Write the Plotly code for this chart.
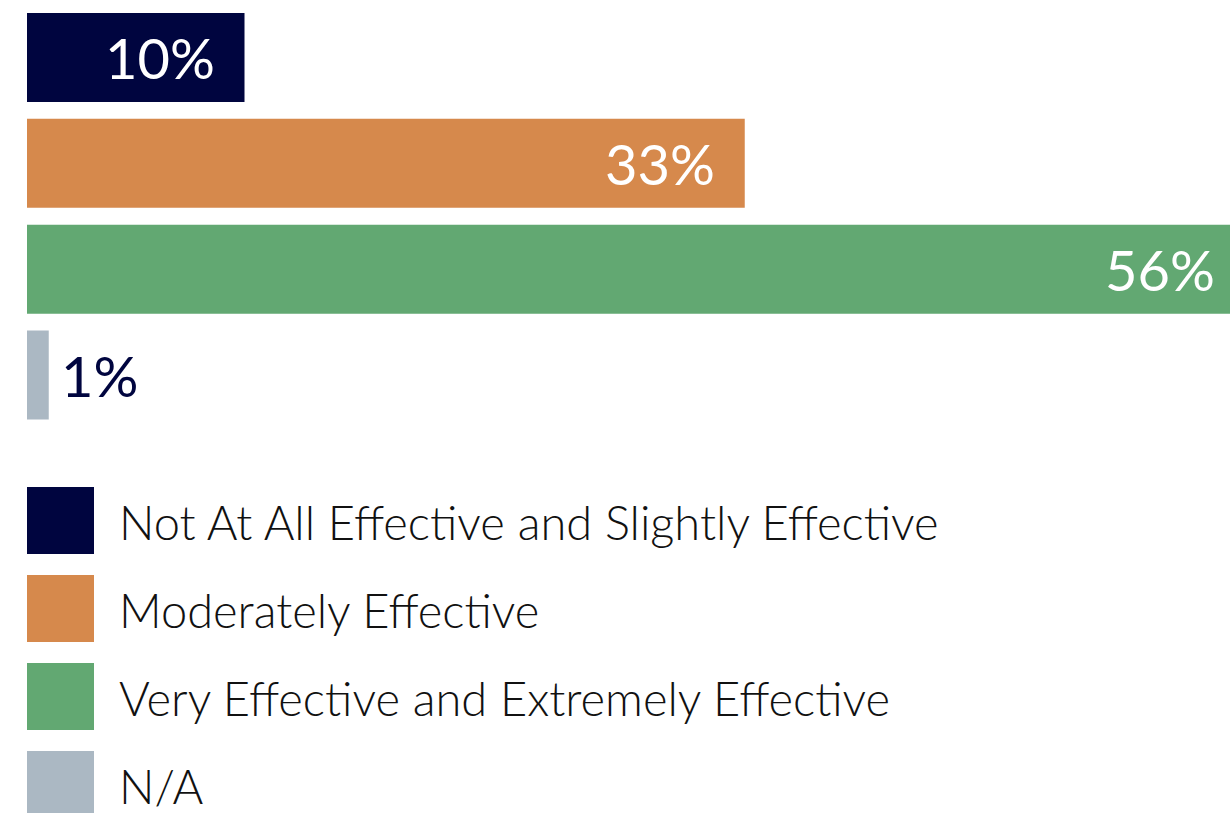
import plotly.graph_objects as go

# Survey response shares (percent)
categories = [
    "Not At All Effective and Slightly Effective",
    "Moderately Effective",
    "Very Effective and Extremely Effective",
    "N/A",
]
values = [10, 33, 56, 1]
colors = ["#00053F", "#D6894C", "#62A872", "#ABB8C3"]
label_colors = ["#FFFFFF", "#FFFFFF", "#FFFFFF", "#00053F"]

W, H = 1230, 813
PX_PER_PCT = 21.75
X0 = 27
X_MAX = (W - X0) / PX_PER_PCT

fig = go.Figure(
    go.Bar(
        y=categories,
        x=values,
        orientation="h",
        marker=dict(color=colors, line=dict(width=0)),
        hoverinfo="skip",
    )
)

# Value labels: inside the bar end, or just past the end for small bars.
# Bars longer than the visible range run off the right edge, so their
# label is anchored at the edge and shifted by the hidden length.
for cat, v, lc in zip(categories, values, label_colors):
    inside = v >= 5
    xa = min(v, X_MAX)
    hidden_px = (v - xa) * PX_PER_PCT
    fig.add_annotation(
        x=xa, y=cat, xref="x", yref="y",
        text=f"{v}%", showarrow=False,
        xanchor="right" if inside else "left",
        xshift=(-28 + hidden_px) if inside else 10,
        font=dict(family="Lato", size=56, color=lc),
    )

# Legend: large colour swatches with labels underneath the bars
legend_tops = [487, 575, 663, 751]
sw = 67
for cat, col, top in zip(categories, colors, legend_tops):
    fig.add_shape(
        type="rect", xref="paper", yref="paper",
        x0=X0 / W, x1=(X0 + sw) / W,
        y0=1 - (top + sw) / H, y1=1 - top / H,
        fillcolor=col, line=dict(width=0), layer="above",
    )
    fig.add_annotation(
        x=117 / W, y=1 - (top + sw / 2 + 1) / H, xref="paper", yref="paper",
        text=cat, showarrow=False, xanchor="left", yanchor="middle",
        font=dict(family="Lato", size=47, weight=300, color="#111111"),
    )

fig.update_layout(
    width=W, height=H,
    margin=dict(l=0, r=0, t=0, b=0),
    paper_bgcolor="white", plot_bgcolor="white",
    showlegend=False,
    bargap=0.16,
    xaxis=dict(
        domain=[X0 / W, 1],
        range=[0, X_MAX],
        visible=False, fixedrange=True,
    ),
    yaxis=dict(
        domain=[1 - 428 / H, 1 - 4.5 / H],
        autorange="reversed",
        visible=False, fixedrange=True,
    ),
)

fig.write_html("out.html")
